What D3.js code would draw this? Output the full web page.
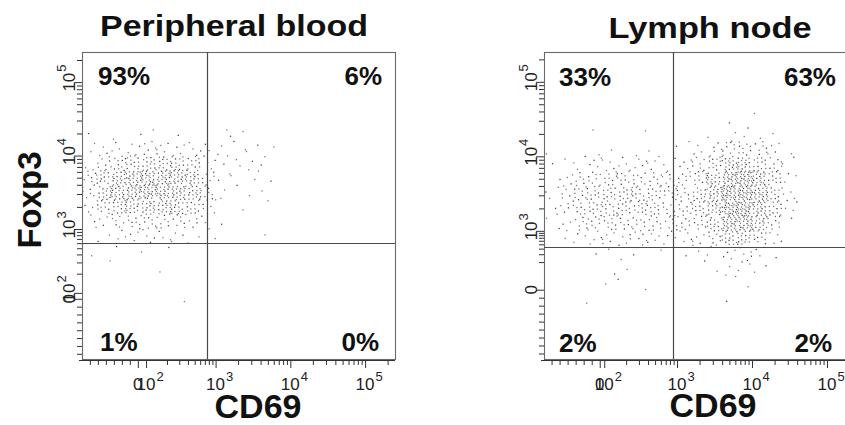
<!DOCTYPE html>
<html><head><meta charset="utf-8">
<script src="https://cdn.jsdelivr.net/npm/d3@7"></script>
<style>
body{margin:0;background:#fff}
svg{display:block}
text{font-family:"Liberation Sans",Arial,Helvetica,sans-serif}
</style>
</head><body>
<svg id="chart" width="845" height="425"></svg>
<script>
// ---------------- DATA (display units = decades on the cytometer's biexponential axis) ----------------
const panelTitles = ["Peripheral blood", "Lymph node"];
const xAxisTitle = "CD69";
const yAxisTitle = "Foxp3";

// quadrant percentages: [upper-left, upper-right, lower-left, lower-right]
const pbQuadrantPct = ["93%", "6%", "1%", "0%"];
const lnQuadrantPct = ["33%", "63%", "2%", "2%"];

// quadrant gate positions (CD69, Foxp3)
const pbGate = [2.89, 2.81];
const lnGate = [2.947, 2.785];

// axis ranges
const pbXDomain = [1.213, 5.4];
const pbYDomain = [1.23, 5.41];
const lnXDomain = [1.227, 5.4];
const lnYDomain = [1.28, 5.40];

// major tick positions and labels
const pbXTickPos = [1.96, 2.07, 3, 4, 5];
const pbXTickLabels = ["0", "10^2", "10^3", "10^4", "10^5"];
const pbYTickPos = [2.05, 2.13, 3, 4, 5];
const pbYTickLabels = ["0", "10^2", "10^3", "10^4", "10^5"];
const lnXTickPos = [1.97, 2.03, 3, 4, 5];
const lnXTickLabels = ["0", "10^2", "10^3", "10^4", "10^5"];
const lnYTickPos = [2.21, 3, 4, 5];
const lnYTickLabels = ["0", "10^3", "10^4", "10^5"];
// position of 10^2 on each axis (start of the log-decade minor ticks)
const pbX100 = 2.07, pbY100 = 2.13, lnX100 = 2.03, lnY100 = 2.4;

// event counts per 0.2 x 0.2 decade bin
// columns start at CD69 = colStart, rows start at the Foxp3 top edge and go downwards
const pbColStart = 1.2, pbRowTop = 4.4;
const pbCounts = [
  [1,0,1,1,1,0,1,0,0,2,1,0,0],
  [2,3,3,4,5,5,4,4,2,2,2,2,1],
  [3,7,11,13,14,14,13,11,4,2,2,2,2],
  [6,14,20,23,24,23,21,18,7,2,1,2,1],
  [7,15,21,24,26,24,22,18,7,2,1,1,1],
  [4,11,15,17,18,17,15,12,5,1,1,0,1],
  [2,4,7,8,8,8,7,5,3,1,0,0,0],
  [0,2,3,3,4,3,3,2,1,0,0,0,1],
  [1,0,1,0,1,1,0,0,0,0,0,0,0],
  [0,1,0,0,0,1,0,0,0,0,0,0,0],
  [0,0,0,0,0,0,0,0,0,0,0,0,0],
  [0,0,0,0,0,0,1,0,0,0,0,0,0]
];
const lnColStart = 1.2, lnRowTop = 4.6;
const lnCounts = [
  [0,0,0,0,0,0,0,0,0,0,0,0,1,0,1,0,0],
  [0,0,0,1,0,0,1,0,0,0,0,1,2,2,1,1,0],
  [1,0,0,1,1,0,1,1,1,1,3,5,8,9,7,4,1],
  [1,1,3,4,4,4,4,4,3,4,7,12,19,19,13,8,2],
  [1,4,7,8,9,9,9,8,7,8,11,18,27,30,22,12,3],
  [2,5,9,11,12,12,11,11,8,9,13,20,32,34,24,13,4],
  [1,5,9,11,11,12,11,11,8,8,12,19,32,32,22,12,3],
  [1,4,7,8,9,8,8,8,7,7,9,15,27,26,18,9,1],
  [0,1,3,4,5,5,5,4,4,4,5,8,16,16,11,4,0],
  [1,0,0,1,1,1,1,1,0,1,1,2,4,5,3,1,0],
  [0,0,0,0,1,1,0,0,0,0,1,1,2,3,2,0,0],
  [0,0,0,0,1,1,1,0,0,0,0,0,1,1,0,0,0],
  [0,0,1,0,0,0,0,0,0,0,0,0,1,0,0,0,0]
];
const binSize = 0.2;

// ---------------- LAYOUT ----------------
const svg = d3.select("#chart");
const panels = [
  {title: panelTitles[0], titleX: 234, titleY: 36, titleLen: 268,
   left: 82, right: 395, top: 52, bottom: 359,
   xDomain: pbXDomain, yDomain: pbYDomain, gate: pbGate, pct: pbQuadrantPct,
   xTickPos: pbXTickPos, xTickLabels: pbXTickLabels, yTickPos: pbYTickPos, yTickLabels: pbYTickLabels,
   x100: pbX100, y100: pbY100, counts: pbCounts, colStart: pbColStart, rowTop: pbRowTop,
   pctPos: [[98,85,"start"],[382,85,"end"],[100,351,"start"],[379,351,"end"]],
   xTitleX: 258, xTitleY: 418, showYTitle: true},
  {title: panelTitles[1], titleX: 710, titleY: 38, titleLen: 203,
   left: 544, right: 857, top: 52, bottom: 359,
   xDomain: lnXDomain, yDomain: lnYDomain, gate: lnGate, pct: lnQuadrantPct,
   xTickPos: lnXTickPos, xTickLabels: lnXTickLabels, yTickPos: lnYTickPos, yTickLabels: lnYTickLabels,
   x100: lnX100, y100: lnY100, counts: lnCounts, colStart: lnColStart, rowTop: lnRowTop,
   pctPos: [[559,86,"start"],[836,86,"end"],[559,352,"start"],[832,352,"end"]],
   xTitleX: 713, xTitleY: 417, showYTitle: false}
];

function minorTicks(zero, p100, dmin, dmax) {
  const t = [];
  for (let v = zero - 0.107; v > dmin + 0.02; v -= 0.107) t.push(v);
  for (let k = 2; k <= 9; k++) t.push(p100 + Math.log10(k) * (3 - p100));
  for (let n = 3; n <= 5; n++) for (let k = 2; k <= 9; k++) {
    const v = n + Math.log10(k);
    if (v < dmax - 0.02) t.push(v);
  }
  return t;
}

panels.forEach((p, pi) => {
  const x = d3.scaleLinear().domain(p.xDomain).range([p.left, p.right]);
  const y = d3.scaleLinear().domain(p.yDomain).range([p.bottom, p.top]);
  const g = svg.append("g");

  svg.append("clipPath").attr("id", "clip" + pi).append("rect")
    .attr("x", p.left).attr("y", p.top).attr("width", p.right - p.left).attr("height", p.bottom - p.top);

  // dots: each binned count drawn as events spread over its bin
  const dots = [];
  p.counts.forEach((row, r) => row.forEach((n, c) => {
    const seed = r * 31 + c * 17;
    for (let k = 0; k < n; k++) {
      const u = ((0.5 + (k + seed) * 0.7548776662) % 1);
      const w = ((0.5 + (k + seed) * 0.5698402910) % 1);
      dots.push([p.colStart + (c + u) * binSize, p.rowTop - (r + w) * binSize, (k + seed) % 3]);
    }
  }));
  g.append("g").attr("clip-path", `url(#clip${pi})`)
    .selectAll("rect").data(dots).join("rect")
    .attr("x", d => x(d[0]) - 0.6).attr("y", d => y(d[1]) - 0.6)
    .attr("width", 1.25).attr("height", 1.25)
    .attr("fill", d => d[2] === 0 ? "#1e1e1e" : "#5a5a5a")
    .attr("opacity", 0.85);

  // frame
  g.append("rect").attr("x", p.left + 0.5).attr("y", p.top + 0.5)
    .attr("width", p.right - p.left).attr("height", p.bottom - p.top)
    .attr("fill", "none").attr("stroke", "#6a6a6a").attr("stroke-width", 1.1);

  // quadrant gates
  g.append("line").attr("x1", Math.round(x(p.gate[0])) + 0.5).attr("x2", Math.round(x(p.gate[0])) + 0.5)
    .attr("y1", p.top).attr("y2", p.bottom).attr("stroke", "#4a4a4a").attr("stroke-width", 1.2);
  g.append("line").attr("y1", Math.round(y(p.gate[1])) + 0.5).attr("y2", Math.round(y(p.gate[1])) + 0.5)
    .attr("x1", p.left).attr("x2", p.right).attr("stroke", "#4a4a4a").attr("stroke-width", 1.2);

  // axes: minor and major ticks
  const xm = minorTicks(p.xTickPos[0], p.x100, p.xDomain[0], p.xDomain[1]);
  const ym = minorTicks(p.yTickPos[0], p.y100, p.yDomain[0], p.yDomain[1]);
  const styleAxis = sel => { sel.select(".domain").remove(); sel.selectAll("line").attr("stroke", "#333"); };
  g.append("g").attr("transform", `translate(0,${p.bottom + 1})`)
    .call(d3.axisBottom(x).tickValues(xm).tickSize(5).tickFormat("")).call(styleAxis);
  g.append("g").attr("transform", `translate(0,${p.bottom + 1})`)
    .call(d3.axisBottom(x).tickValues(p.xTickPos).tickSize(8).tickFormat("")).call(styleAxis);
  g.append("g").attr("transform", `translate(${p.left},0)`)
    .call(d3.axisLeft(y).tickValues(ym).tickSize(5).tickFormat("")).call(styleAxis);
  g.append("g").attr("transform", `translate(${p.left},0)`)
    .call(d3.axisLeft(y).tickValues(p.yTickPos).tickSize(8).tickFormat("")).call(styleAxis);
  g.append("line").attr("x1", p.left - 3).attr("x2", p.right).attr("y1", p.bottom + 1.5).attr("y2", p.bottom + 1.5)
    .attr("stroke", "#333").attr("stroke-width", 1);

  // tick labels (overlapping "0" and "10²" as in the original cytometer export)
  function addLabel(sel, lab) {
    const parts = lab.split("^");
    if (parts.length === 1) {
      sel.attr("text-anchor", "middle").text(parts[0]);
    } else {
      sel.attr("text-anchor", "start").attr("x", -9.5);
      sel.append("tspan").text(parts[0]);
      sel.append("tspan").attr("font-size", 13).attr("dy", -9).attr("dx", 1).text(parts[1]);
    }
  }
  p.xTickPos.forEach((v, i) => {
    const t = g.append("text").attr("transform", `translate(${x(v)},390)`)
      .attr("font-size", 17).attr("fill", "#222");
    addLabel(t, p.xTickLabels[i]);
  });
  p.yTickPos.forEach((v, i) => {
    const t = g.append("text").attr("transform", `translate(${p.left - 7},${y(v)}) rotate(-90)`)
      .attr("font-size", 17).attr("fill", "#222");
    addLabel(t, p.yTickLabels[i]);
  });

  // quadrant percentages
  p.pct.forEach((s, i) => {
    const [px, py, anchor] = p.pctPos[i];
    g.append("text").attr("x", px).attr("y", py).attr("text-anchor", anchor)
      .attr("font-size", 26).attr("font-weight", "bold").attr("fill", "#111").text(s);
  });

  // titles
  g.append("text").attr("x", p.titleX - p.titleLen / 2).attr("y", p.titleY)
    .attr("font-size", 30).attr("font-weight", "bold").attr("fill", "#111")
    .attr("textLength", p.titleLen).attr("lengthAdjust", "spacingAndGlyphs").text(p.title);
  g.append("text").attr("x", p.xTitleX).attr("y", p.xTitleY).attr("text-anchor", "middle")
    .attr("font-size", 34).attr("font-weight", "bold").attr("fill", "#111").text(xAxisTitle);
  if (p.showYTitle) {
    g.append("text").attr("transform", "translate(41,200) rotate(-90)").attr("text-anchor", "middle")
      .attr("font-size", 33).attr("font-weight", "bold").attr("fill", "#111").text(yAxisTitle);
  }
});
</script>
</body></html>
